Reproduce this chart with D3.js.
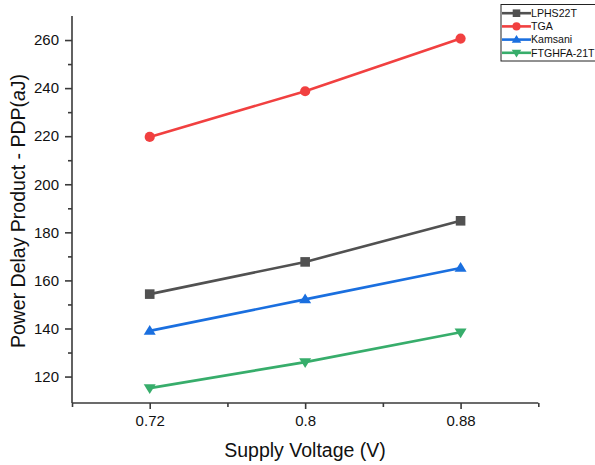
<!DOCTYPE html>
<html>
<head>
<meta charset="utf-8">
<script src="https://cdn.jsdelivr.net/npm/d3@7/dist/d3.min.js"></script>
<style>
  html, body { margin: 0; padding: 0; background: #fff; }
  svg { display: block; font-family: "Liberation Sans", Arial, sans-serif; }
</style>
</head>
<body>
<svg id="chart" width="595" height="465"></svg>
<script>
// Supply voltages (V)
const voltages = [0.72, 0.8, 0.88];
const xTickLabels = ["0.72", "0.8", "0.88"];

// Power delay product (aJ) per design
const lphs22t = [154.3, 167.7, 184.8];
const tga     = [219.7, 238.7, 260.6];
const kamsani = [139.0, 152.1, 165.2];
const ftghfa  = [115.2, 126.0, 138.4];

const yTicks = [120, 140, 160, 180, 200, 220, 240, 260];
const yMinorTicks = [130, 150, 170, 190, 210, 230, 250];
const xMinorTicks = [0.68, 0.76, 0.84, 0.92];

const series = [
  { name: "LPHS22T",    values: lphs22t, color: "#515151", marker: "square" },
  { name: "TGA",        values: tga,     color: "#F14040", marker: "circle" },
  { name: "Kamsani",    values: kamsani, color: "#1A6FDF", marker: "triangle" },
  { name: "FTGHFA-21T", values: ftghfa,  color: "#37AD6B", marker: "triangleDown" }
];

const svg = d3.select("#chart");
const plotLeft = 72, plotRight = 538.3, plotTop = 16, plotBottom = 403;
const axisColor = "#3a3a3a";

const x = d3.scaleLinear().domain([0.68, 0.92]).range([plotLeft, plotRight]);
const y = d3.scaleLinear().domain([109, 270]).range([plotBottom, plotTop]);

// Marker shapes, w = nominal width in px
function markerPath(type, w) {
  const h = w / 2;
  if (type === "square") {
    const s = w * 0.8 / 2;
    return `M${-s},${-s}H${s}V${s}H${-s}Z`;
  }
  if (type === "circle") {
    const r = w * 0.85 / 2;
    return `M${r},0A${r},${r} 0 1,1 ${-r},0A${r},${r} 0 1,1 ${r},0Z`;
  }
  const th = w * 0.82;
  if (type === "triangle") {
    return `M0,${-th * 0.6}L${h},${th * 0.4}L${-h},${th * 0.4}Z`;
  }
  return `M0,${th * 0.6}L${h},${-th * 0.4}L${-h},${-th * 0.4}Z`;
}

// Lines and markers
const line = d3.line().x((d, i) => x(voltages[i])).y(d => y(d));
const plot = svg.append("g");
series.forEach(s => {
  plot.append("path")
    .attr("d", line(s.values))
    .attr("fill", "none")
    .attr("stroke", s.color)
    .attr("stroke-width", 2.6);
  plot.selectAll(null)
    .data(s.values)
    .enter().append("path")
    .attr("d", markerPath(s.marker, 12))
    .attr("fill", s.color)
    .attr("transform", (d, i) => `translate(${x(voltages[i])},${y(d)})`);
});

// Y axis
const yAxis = svg.append("g").attr("transform", `translate(${plotLeft},0)`)
  .call(d3.axisLeft(y).tickValues(yTicks).tickSize(7).tickPadding(6).tickFormat(d3.format("d")));
yAxis.select(".domain").attr("d", `M0,${plotTop}V${plotBottom}`);
const yMinor = svg.append("g").attr("transform", `translate(${plotLeft},0)`)
  .call(d3.axisLeft(y).tickValues(yMinorTicks).tickSize(4).tickFormat(""));
yMinor.select(".domain").remove();

// X axis
const xAxis = svg.append("g").attr("transform", `translate(0,${plotBottom})`)
  .call(d3.axisBottom(x).tickValues(voltages).tickSize(6).tickPadding(6)
    .tickFormat((d, i) => xTickLabels[i]));
xAxis.select(".domain").attr("d", `M${plotLeft},0H${plotRight}`);
const xMinor = svg.append("g").attr("transform", `translate(0,${plotBottom})`)
  .call(d3.axisBottom(x).tickValues(xMinorTicks).tickSize(4).tickFormat(""));
xMinor.select(".domain").remove();

svg.selectAll(".tick line, .domain").attr("stroke", axisColor).attr("stroke-width", 1.6);
svg.selectAll(".tick text").attr("font-size", 15).attr("fill", "#111")
  .attr("font-family", "'Liberation Sans', Arial, sans-serif");

// Axis titles
svg.append("text")
  .attr("x", 305).attr("y", 457)
  .attr("text-anchor", "middle")
  .attr("font-size", 19.5).attr("fill", "#111")
  .text("Supply Voltage (V)");

const yTitle = svg.append("text")
  .attr("transform", "translate(25,211) rotate(-90)")
  .attr("text-anchor", "middle")
  .attr("font-size", 19.5).attr("fill", "#111");
yTitle.append("tspan").text("Power Delay Product - PDP(");
yTitle.append("tspan").attr("font-style", "italic").text("a");
yTitle.append("tspan").text("J)");

// Legend
const legend = svg.append("g");
legend.append("rect")
  .attr("x", 501).attr("y", 4.5).attr("width", 110).attr("height", 56.5)
  .attr("fill", "#fff").attr("stroke", "#222").attr("stroke-width", 1);
series.forEach((s, i) => {
  const cy = 13.2 + i * 13.2;
  legend.append("line")
    .attr("x1", 502).attr("x2", 531).attr("y1", cy).attr("y2", cy)
    .attr("stroke", s.color).attr("stroke-width", 2.6);
  legend.append("path")
    .attr("d", markerPath(s.marker, 9.5))
    .attr("fill", s.color)
    .attr("transform", `translate(516.5,${cy})`);
  legend.append("text")
    .attr("x", 531).attr("y", cy + 3.8)
    .attr("font-size", 10.6).attr("fill", "#111")
    .text(s.name);
});
</script>
</body>
</html>
